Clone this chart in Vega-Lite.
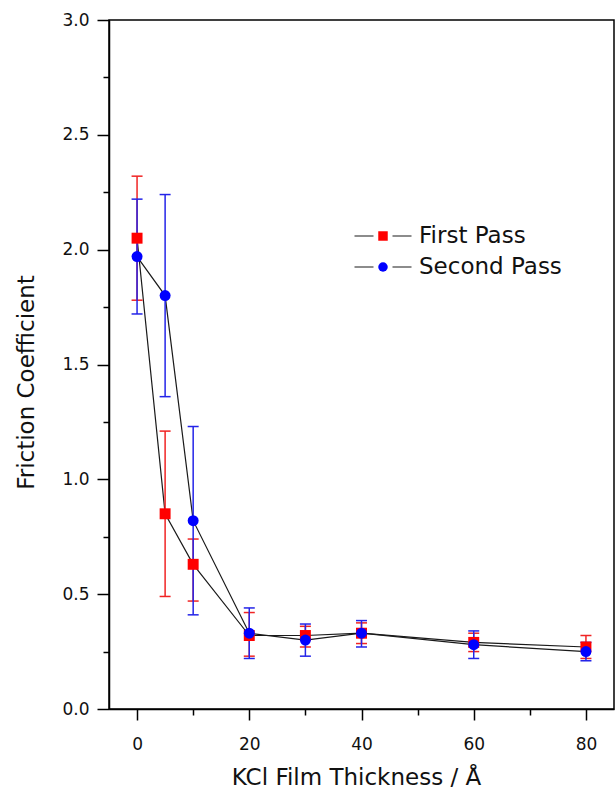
{
  "$schema": "https://vega.github.io/schema/vega-lite/v6.json",
  "width": 505,
  "height": 689,
  "autosize": "none",
  "padding": {"left": 109, "top": 20, "right": 2, "bottom": 83},
  "background": "white",
  "config": {
    "view": {"stroke": "black", "strokeWidth": 1.5},
    "font": "DejaVu Sans",
    "axis": {
      "grid": false,
      "domainColor": "black",
      "domainWidth": 1.5,
      "tickColor": "black",
      "tickWidth": 1.5,
      "labelFont": "DejaVu Sans",
      "labelFontSize": 17,
      "labelColor": "#111",
      "titleFont": "DejaVu Sans",
      "titleFontSize": 23,
      "titleFontWeight": "normal",
      "titleColor": "#111"
    }
  },
  "data": {
    "values": [
      {"thickness": 0, "series": "First Pass", "mean": 2.05, "lo": 1.78, "hi": 2.32},
      {"thickness": 5, "series": "First Pass", "mean": 0.85, "lo": 0.49, "hi": 1.21},
      {"thickness": 10, "series": "First Pass", "mean": 0.63, "lo": 0.47, "hi": 0.74},
      {"thickness": 20, "series": "First Pass", "mean": 0.32, "lo": 0.23, "hi": 0.42},
      {"thickness": 30, "series": "First Pass", "mean": 0.32, "lo": 0.27, "hi": 0.36},
      {"thickness": 40, "series": "First Pass", "mean": 0.33, "lo": 0.285, "hi": 0.375},
      {"thickness": 60, "series": "First Pass", "mean": 0.29, "lo": 0.25, "hi": 0.33},
      {"thickness": 80, "series": "First Pass", "mean": 0.27, "lo": 0.22, "hi": 0.32},
      {"thickness": 0, "series": "Second Pass", "mean": 1.97, "lo": 1.72, "hi": 2.22},
      {"thickness": 5, "series": "Second Pass", "mean": 1.8, "lo": 1.36, "hi": 2.24},
      {"thickness": 10, "series": "Second Pass", "mean": 0.82, "lo": 0.41, "hi": 1.23},
      {"thickness": 20, "series": "Second Pass", "mean": 0.33, "lo": 0.22, "hi": 0.44},
      {"thickness": 30, "series": "Second Pass", "mean": 0.3, "lo": 0.23, "hi": 0.37},
      {"thickness": 40, "series": "Second Pass", "mean": 0.33, "lo": 0.27, "hi": 0.385},
      {"thickness": 60, "series": "Second Pass", "mean": 0.28, "lo": 0.22, "hi": 0.34},
      {"thickness": 80, "series": "Second Pass", "mean": 0.25, "lo": 0.21, "hi": 0.29}
    ]
  },
  "encoding": {
    "x": {
      "field": "thickness",
      "type": "quantitative",
      "scale": {"domain": [-5, 85], "nice": false, "zero": false},
      "axis": {
        "values": [0, 10, 20, 30, 40, 50, 60, 70, 80],
        "labelExpr": "datum.value % 20 == 0 ? datum.label : ''",
        "tickSize": {"condition": {"test": "datum.value % 20 == 0", "value": 11}, "value": 6},
        "labelPadding": 16,
        "title": "KCl Film Thickness / Å",
        "titleX": 247,
        "titleY": 75,
        "titleBaseline": "alphabetic"
      }
    }
  },
  "layer": [
    {
      "mark": {"type": "line", "strokeWidth": 1.2},
      "encoding": {
        "y": {"field": "mean", "type": "quantitative", "title": "Friction Coefficient"},
        "stroke": {
          "field": "series",
          "type": "nominal",
          "scale": {"domain": ["First Pass", "Second Pass"], "range": ["#1a1a1a", "#1a1a1a"]},
          "legend": {
            "orient": "none",
            "legendX": 262.5,
            "legendY": 204.5,
            "title": null,
            "padding": 0,
            "symbolType": "M-3,0H-1M1,0H3",
            "symbolSize": 361,
            "symbolStrokeWidth": 1.1,
            "labelFont": "DejaVu Sans",
            "labelFontSize": 23,
            "labelColor": "#111",
            "labelOffset": 24.5,
            "rowPadding": 7
          }
        }
      }
    },
    {
      "transform": [{"filter": "datum.series == 'First Pass'"}],
      "mark": {"type": "errorbar", "ticks": true, "size": 11, "thickness": 1.5, "color": "#f02424", "opacity": 1},
      "encoding": {
        "y": {"field": "lo", "type": "quantitative", "title": "Friction Coefficient"},
        "y2": {"field": "hi"}
      }
    },
    {
      "transform": [{"filter": "datum.series == 'Second Pass'"}],
      "mark": {"type": "errorbar", "ticks": true, "size": 11, "thickness": 1.5, "color": "#2424e8", "opacity": 1},
      "encoding": {
        "y": {"field": "lo", "type": "quantitative", "title": "Friction Coefficient"},
        "y2": {"field": "hi"}
      }
    },
    {
      "mark": {"type": "point", "filled": true, "size": 120, "opacity": 1, "strokeWidth": 0},
      "encoding": {
        "y": {
          "field": "mean",
          "type": "quantitative",
          "title": "Friction Coefficient",
          "scale": {"domain": [0, 3], "nice": false},
          "axis": {
            "values": [0, 0.25, 0.5, 0.75, 1, 1.25, 1.5, 1.75, 2, 2.25, 2.5, 2.75, 3],
            "labelExpr": "(datum.value * 2) % 1 == 0 ? format(datum.value, '.1f') : ''",
            "tickSize": {"condition": {"test": "(datum.value * 2) % 1 == 0", "value": 12}, "value": 6},
            "labelPadding": 8,
            "title": "Friction Coefficient",
            "titleX": -76,
            "titleY": 362,
            "titleBaseline": "alphabetic"
          }
        },
        "color": {
          "field": "series",
          "type": "nominal",
          "scale": {"range": ["#ff0000", "#0000ff"]},
          "legend": {
            "orient": "none",
            "legendX": 262.5,
            "legendY": 204.5,
            "title": null,
            "padding": 0,
            "symbolSize": 90,
            "symbolStrokeWidth": 0,
            "labelFont": "DejaVu Sans",
            "labelFontSize": 23,
            "labelExpr": "''",
            "rowPadding": 7
          }
        },
        "shape": {
          "field": "series",
          "type": "nominal",
          "scale": {"range": ["square", "circle"]},
          "legend": {
            "orient": "none",
            "legendX": 262.5,
            "legendY": 204.5,
            "title": null,
            "padding": 0,
            "symbolSize": 90,
            "symbolStrokeWidth": 0,
            "labelFont": "DejaVu Sans",
            "labelFontSize": 23,
            "labelExpr": "''",
            "rowPadding": 7
          }
        }
      }
    }
  ]
}
